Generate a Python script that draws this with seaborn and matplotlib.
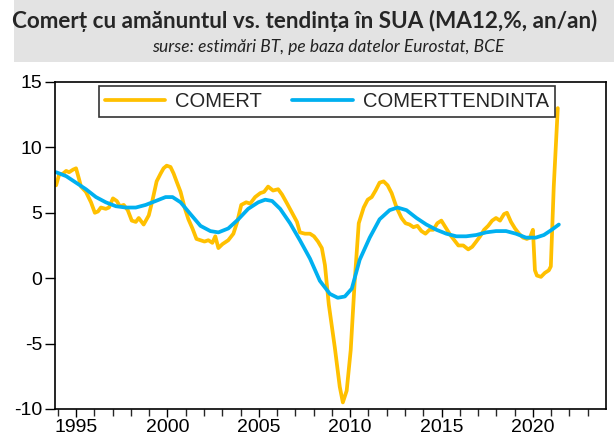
import pandas as pd
import numpy as np
import matplotlib.pyplot as plt
import seaborn as sns
from matplotlib.patches import Rectangle

# valori (an, % an/an)
comert_an = [1993.91, 1994.07, 1994.29, 1994.46, 1994.62, 1994.84, 1995.00, 1995.16, 1995.27, 1995.54,
             1995.82, 1996.03, 1996.20, 1996.36, 1996.63, 1996.80, 1997.02, 1997.23, 1997.40, 1997.61,
             1997.83, 1998.05, 1998.27, 1998.43, 1998.70, 1998.98, 1999.19, 1999.41, 1999.63, 1999.79,
             1999.96, 2000.17, 2000.34, 2000.50, 2000.72, 2000.94, 2001.15, 2001.37, 2001.59, 2001.81,
             2002.03, 2002.24, 2002.46, 2002.62, 2002.79, 2003.01, 2003.33, 2003.61, 2003.82, 2004.04,
             2004.31, 2004.53, 2004.80, 2005.08, 2005.29, 2005.51, 2005.78, 2006.06, 2006.27, 2006.55,
             2006.82, 2007.09, 2007.25, 2007.53, 2007.80, 2008.02, 2008.24, 2008.45, 2008.62, 2008.83,
             2009.16, 2009.43, 2009.60, 2009.81, 2010.03, 2010.25, 2010.47, 2010.74, 2010.96, 2011.18,
             2011.39, 2011.61, 2011.83, 2012.05, 2012.27, 2012.54, 2012.81, 2013.03, 2013.25, 2013.46,
             2013.68, 2013.90, 2014.12, 2014.34, 2014.55, 2014.77, 2014.99, 2015.21, 2015.48, 2015.70,
             2015.92, 2016.19, 2016.46, 2016.68, 2016.90, 2017.11, 2017.33, 2017.55, 2017.77, 2017.98,
             2018.20, 2018.42, 2018.58, 2018.80, 2019.02, 2019.24, 2019.46, 2019.67, 2019.84, 2020.00,
             2020.11, 2020.22, 2020.44, 2020.65, 2020.87, 2020.98, 2021.14, 2021.36]
comert_val = [7.1, 7.9, 8.0, 8.2, 8.1, 8.3, 8.4, 7.6, 7.0, 6.6,
              5.8, 5.0, 5.1, 5.4, 5.3, 5.4, 6.1, 5.9, 5.5, 5.6,
              5.2, 4.4, 4.3, 4.6, 4.1, 4.8, 6.0, 7.4, 8.0, 8.4,
              8.6, 8.5, 8.0, 7.4, 6.6, 5.4, 4.5, 3.8, 3.0, 2.9,
              2.8, 2.9, 2.7, 3.2, 2.3, 2.6, 2.9, 3.4, 4.3, 5.6,
              5.8, 5.7, 6.2, 6.5, 6.6, 7.0, 6.7, 6.8, 6.4, 5.7,
              5.0, 4.3, 3.5, 3.4, 3.4, 3.2, 2.8, 2.3, 1.0, -2.0,
              -5.3, -8.3, -9.5, -8.6, -5.5, -0.2, 4.2, 5.4, 6.0, 6.2,
              6.7, 7.3, 7.4, 7.1, 6.5, 5.4, 4.6, 4.2, 4.1, 3.9,
              4.0, 3.6, 3.4, 3.7, 3.7, 4.2, 4.4, 3.9, 3.3, 2.9,
              2.5, 2.5, 2.2, 2.4, 2.8, 3.2, 3.7, 4.0, 4.4, 4.6,
              4.4, 4.9, 5.0, 4.3, 3.8, 3.4, 3.1, 3.0, 3.1, 3.7,
              0.6, 0.2, 0.1, 0.4, 0.6, 0.9, 7.0, 13.0]

tendinta_an = [1993.91, 1994.46, 1995.00, 1995.54, 1996.09, 1996.63, 1997.18, 1997.72, 1998.27, 1998.81,
               1999.36, 1999.90, 2000.28, 2000.72, 2001.26, 2001.81, 2002.35, 2002.79, 2003.33, 2003.88,
               2004.42, 2004.97, 2005.35, 2005.73, 2006.17, 2006.71, 2007.25, 2007.80, 2008.34, 2008.89,
               2009.32, 2009.71, 2010.09, 2010.52, 2011.07, 2011.61, 2012.16, 2012.59, 2013.08, 2013.63,
               2014.17, 2014.72, 2015.26, 2015.81, 2016.35, 2016.90, 2017.44, 2017.98, 2018.53, 2019.07,
               2019.62, 2020.16, 2020.60, 2021.03, 2021.42]
tendinta_val = [8.1, 7.8, 7.3, 6.8, 6.2, 5.8, 5.5, 5.4, 5.4, 5.6,
                5.9, 6.2, 6.2, 5.8, 4.9, 4.0, 3.6, 3.5, 3.8, 4.5,
                5.3, 5.8, 6.0, 5.9, 5.3, 4.2, 2.9, 1.5, -0.2, -1.2,
                -1.5, -1.4, -0.8, 1.4, 3.1, 4.5, 5.2, 5.4, 5.2, 4.6,
                4.1, 3.7, 3.4, 3.2, 3.2, 3.3, 3.5, 3.6, 3.6, 3.4,
                3.1, 3.1, 3.3, 3.7, 4.1]

ani_etichete = [1995, 2000, 2005, 2010, 2015, 2020]

df = pd.concat([
    pd.DataFrame({'an': comert_an, 'valoare': comert_val, 'serie': 'COMERT'}),
    pd.DataFrame({'an': tendinta_an, 'valoare': tendinta_val, 'serie': 'COMERTTENDINTA'}),
], ignore_index=True)

sns.set_style('ticks')
plt.rcParams['font.family'] = ['Liberation Sans', 'DejaVu Sans']
plt.rcParams['axes.unicode_minus'] = False

fig = plt.figure(figsize=(6.14, 4.36), dpi=100)

# banda gri pentru titlu
fig.patches.append(Rectangle((0.022, 0.858), 0.978, 0.142, transform=fig.transFigure,
                             facecolor='#e3e3e3', edgecolor='none', zorder=0))
fig.text(0.02, 0.952, 'Comerț cu amănuntul vs. tendința în SUA (MA12,%, an/an)',
         fontsize=16.2, fontweight='bold', family=['Lato', 'DejaVu Sans'], va='center', ha='left')
fig.text(0.535, 0.892, 'surse: estimări BT, pe baza datelor Eurostat, BCE',
         fontsize=12.5, style='italic', family=['Lato', 'DejaVu Sans'], va='center', ha='center',
         color='#222222')

ax = fig.add_axes([0.0896, 0.062, 0.8974, 0.75])
sns.lineplot(data=df, x='an', y='valoare', hue='serie', sort=False, estimator=None,
             palette={'COMERT': '#FFC000', 'COMERTTENDINTA': '#00B0F0'},
             linewidth=2.7, ax=ax)

ax.set_xlim(1993.85, 2024.0)
ax.set_ylim(-10, 15)
ax.set_yticks([-10, -5, 0, 5, 10, 15])
ax.set_xticks(ani_etichete)
ax.set_xticks(np.arange(1994, 2024), minor=True)
ax.set_xlabel('')
ax.set_ylabel('')
ax.tick_params(axis='both', labelsize=14, colors='black', direction='out')
ax.tick_params(axis='y', length=7, width=1, pad=2)
ax.tick_params(axis='x', which='major', length=6, width=1, pad=1)
ax.tick_params(axis='x', which='minor', length=5, width=1)
for side in ['left', 'bottom', 'top', 'right']:
    ax.spines[side].set_visible(True)
    ax.spines[side].set_color('black')
    ax.spines[side].set_linewidth(1.2)

handles, labels = ax.get_legend_handles_labels()
for h in handles:
    h.set_linewidth(2.7)
leg = ax.legend(handles, labels, loc='upper center', bbox_to_anchor=(0.493, 0.988), ncol=2,
                frameon=True, fancybox=False, fontsize=14.5, handlelength=3.0,
                columnspacing=1.5, borderpad=0.3, handletextpad=0.5, borderaxespad=0)
leg.get_frame().set_edgecolor('black')
leg.get_frame().set_linewidth(1.2)

fig.savefig('out.png', dpi=100)
